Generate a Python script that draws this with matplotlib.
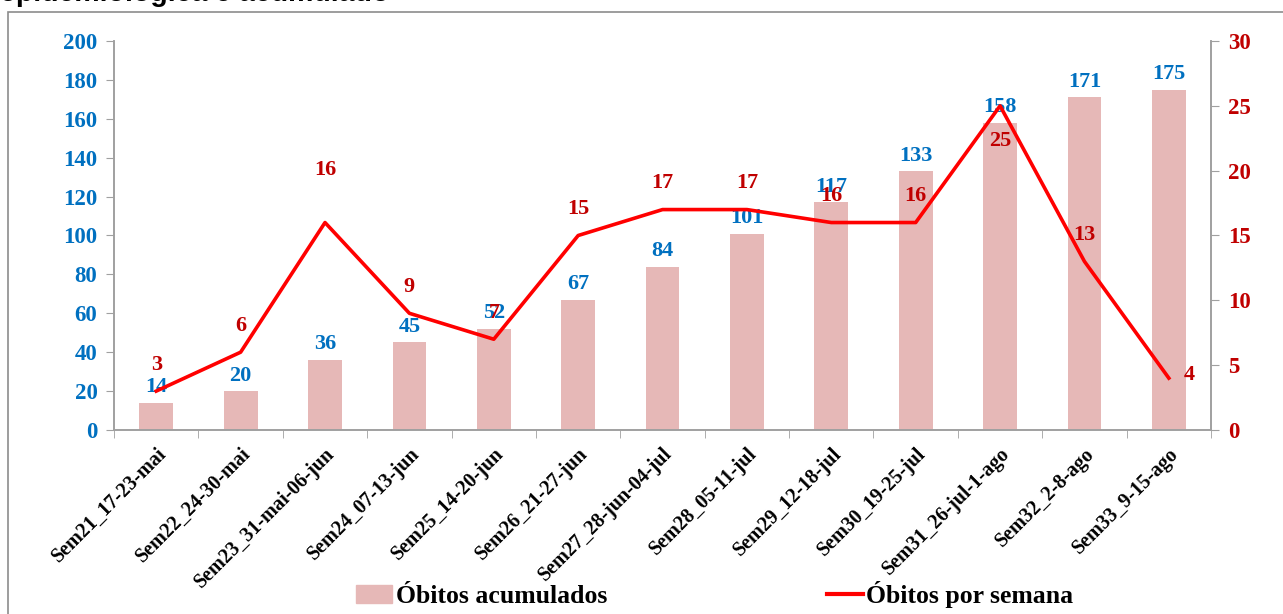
import matplotlib.pyplot as plt
from matplotlib.patches import Rectangle
from matplotlib.lines import Line2D
import numpy as np

semanas = ['Sem21_17-23-mai', 'Sem22_24-30-mai', 'Sem23_31-mai-06-jun', 'Sem24_07-13-jun',
           'Sem25_14-20-jun', 'Sem26_21-27-jun', 'Sem27_28-jun-04-jul', 'Sem28_05-11-jul',
           'Sem29_12-18-jul', 'Sem30_19-25-jul', 'Sem31_26-jul-1-ago', 'Sem32_2-8-ago',
           'Sem33_9-15-ago']
acumulados = [14, 20, 36, 45, 52, 67, 84, 101, 117, 133, 158, 171, 175]
por_semana = [3, 6, 16, 9, 7, 15, 17, 17, 16, 16, 25, 13, 4]

# label offsets (points) for the weekly series, Excel placed a few oddly
lbl_off = [(0, 19), (0, 19), (0, 38), (0, 19), (0, 19), (0, 19), (0, 19),
           (0, 19), (0, 19), (0, 19), (0, -25), (0, 19), (15, 2)]

serif = 'Liberation Serif'
blue = '#0070C0'
dkred = '#C00000'
grey = '#A0A0A0'

fig = plt.figure(figsize=(12.83, 6.14), dpi=100)
ax = fig.add_axes([0.0889, 0.2997, 0.855, 0.6335])
ax2 = ax.twinx()

x = np.arange(len(semanas))
ax.bar(x, acumulados, width=0.4, color='#E6B8B7', zorder=1)
ax.set_ylim(0, 200)
ax.set_xlim(-0.5, len(semanas) - 0.5)
ax.set_yticks(range(0, 201, 20))
for xi, v in zip(x, acumulados):
    ax.annotate(str(v), (xi, v), xytext=(0, 4), textcoords='offset points',
                ha='center', va='bottom', color=blue, fontsize=16,
                fontweight='bold', family=serif)

ax2.plot(x, por_semana, color='#FF0000', lw=2.6, zorder=3)
ax2.set_ylim(0, 30)
ax2.set_yticks(range(0, 31, 5))
for xi, v, off in zip(x, por_semana, lbl_off):
    ax2.annotate(str(v), (xi, v), xytext=off, textcoords='offset points',
                 ha='center', va='center', color=dkred, fontsize=16,
                 fontweight='bold', family=serif)

ax.set_xticks(x)
ax.set_xticklabels(semanas, rotation=45, ha='right', rotation_mode='anchor',
                   fontsize=14.5, fontweight='bold', family=serif)
ax.set_xticks(np.arange(-0.5, len(semanas), 1), minor=True)
ax.tick_params(axis='x', which='major', length=0, pad=10)
ax.tick_params(axis='x', which='minor', length=6, color=grey, direction='out')
ax.tick_params(axis='y', length=6, color=grey, labelcolor=blue, labelsize=16.5, pad=6)
ax2.tick_params(axis='y', length=6, color=grey, labelcolor=dkred, labelsize=16.5, pad=6)
for lab in ax.get_yticklabels() + ax2.get_yticklabels():
    lab.set_fontweight('bold')
    lab.set_family(serif)

for a in (ax, ax2):
    a.spines['top'].set_visible(False)
    for s in ('left', 'right', 'bottom'):
        a.spines[s].set_color(grey)
        a.spines[s].set_linewidth(1.2)

# legend
h1 = Rectangle((0, 0), 1, 1, color='#E6B8B7')
h2 = Line2D([0], [0], color='#FF0000', lw=3)
fig.legend([h1, h2], ['Óbitos acumulados', 'Óbitos por semana'], ncol=2,
           loc='center', bbox_to_anchor=(0.557, 0.032), frameon=False,
           prop={'family': serif, 'weight': 'bold', 'size': 18.5},
           handlelength=1.4, handletextpad=0.15, columnspacing=8.55)

# chart frame and clipped title above it
fig.patches.append(Rectangle((8 / 1283, -0.01), 1.0, 1 - 12 / 614 + 0.01,
                             transform=fig.transFigure, fill=False,
                             edgecolor='#8C8C8C', lw=1.2))
fig.text(0.0, 1 - 1 / 614, 'epidemiológica e acumulado', family='Liberation Sans',
         fontweight='bold', fontsize=20.5, va='baseline', ha='left')

fig.savefig('out.png', dpi=100)
